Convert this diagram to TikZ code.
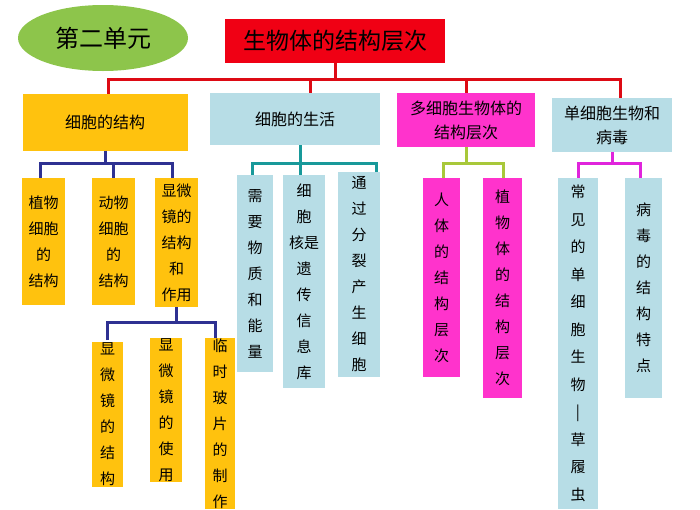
\documentclass[tikz,border=0pt]{standalone}
\usepackage{fontspec}
\setmainfont{Noto Sans CJK SC}
\usetikzlibrary{shapes.geometric}
\definecolor{cyel}{HTML}{FFC20E}
\definecolor{cblue}{HTML}{B7DDE6}
\definecolor{cmag}{HTML}{FF33CC}
\definecolor{cred}{HTML}{F00014}
\definecolor{cgreen}{HTML}{8DC54B}
\definecolor{lnavy}{HTML}{2E3192}
\definecolor{lteal}{HTML}{18999A}
\definecolor{llime}{HTML}{A8C83A}
\definecolor{lmag}{HTML}{E024DC}
\definecolor{lred}{HTML}{DD0A14}
\tikzset{
  cell/.style={inner sep=0pt, align=center, font=\fontsize{15}{26}\selectfont},
  bigcell/.style={cell, font=\fontsize{16}{24}\selectfont},
  link/.style={line width=3pt}
}
\begin{document}
\begin{tikzpicture}[x=1pt,y=-1pt]
    \useasboundingbox (0,0) rectangle (700,509);
    \fill[white] (0,0) rectangle (700,509);

    % connector levels
    \coordinate (rbus) at (0,79);
    \coordinate (ybus) at (0,163);
    \coordinate (mbus) at (0,322);

    % unit and title
    \node[ellipse, fill=cgreen, minimum width=170, minimum height=66, font=\fontsize{24}{24}\selectfont] (unit) at (103,38) {第二单元};
    \node[cell, fill=cred, minimum width=220, minimum height=44, font=\fontsize{23}{23}\selectfont] (title) at (335,41) {生物体的结构层次};

    % main branches
    \draw[link, lred] (108,100) |- (title.south |- rbus) -- (title.south);
    \draw[link, lred] (310,100) |- (title.south |- rbus);
    \draw[link, lred] (466,100) |- (title.south |- rbus);
    \draw[link, lred] (620,100) |- (title.south |- rbus);
    \node[bigcell, fill=cyel, minimum width=165, minimum height=57] (jg) at (105,122) {细胞的结构};
    \node[bigcell, fill=cblue, minimum width=170, minimum height=52] (sh) at (295,119) {细胞的生活};
    \node[bigcell, fill=cmag, minimum width=138, minimum height=54] (dx) at (466,120) {多细胞生物体的\\结构层次};
    \node[bigcell, fill=cblue, minimum width=120, minimum height=54] (dan) at (612,125) {单细胞生物和\\病毒};

    % 细胞的结构
    \draw[link, lnavy] (jg.south) -- (jg.south |- ybus);
    \draw[link, lnavy] (40,180) |- (172,163) -- (172,180);
    \draw[link, lnavy] (113,163) -- (113,180);
    \node[cell, fill=cyel, minimum width=43, minimum height=127] (zw) at (43.5,241.5) {植物\\细胞\\的\\结构};
    \node[cell, fill=cyel, minimum width=43, minimum height=127] (dw) at (113.5,241.5) {动物\\细胞\\的\\结构};
    \node[cell, fill=cyel, minimum width=43, minimum height=129] (xw) at (176.5,242.5) {显微\\镜的\\结构\\和\\作用};
    \draw[link, lnavy] (xw.south) -- (xw.south |- mbus);
    \draw[link, lnavy] (107,340) |- (215,322) -- (215,340);
    \node[cell, fill=cyel, minimum width=31, minimum height=145] (xj) at (107.5,414.5) {显\\微\\镜\\的\\结\\构};
    \node[cell, fill=cyel, minimum width=32, minimum height=144] (xs) at (166,410) {显\\微\\镜\\的\\使\\用};
    \node[cell, fill=cyel, minimum width=30, minimum height=171] (lb) at (220,423.5) {临\\时\\玻\\片\\的\\制\\作};

    % 细胞的生活
    \draw[link, lteal] (300,145) -- (300,175);
    \draw[link, lteal] (252,177) |- (376,163) -- (376,177);
    \node[cell, fill=cblue, minimum width=36, minimum height=197] (xy) at (255,273.5) {需\\要\\物\\质\\和\\能\\量};
    \node[cell, fill=cblue, minimum width=42, minimum height=213] (xbh) at (304,281.5) {细\\胞\\核是\\遗\\传\\信\\息\\库};
    \node[cell, fill=cblue, minimum width=42, minimum height=205] (fl) at (359,274.5) {通\\过\\分\\裂\\产\\生\\细\\胞};

    % 多细胞生物体的结构层次
    \draw[link, llime] (dx.south) -- (dx.south |- ybus);
    \draw[link, llime] (443,180) |- (503,163) -- (503,180);
    \node[cell, fill=cmag, minimum width=37, minimum height=199] (rt) at (441.5,277.5) {人\\体\\的\\结\\构\\层\\次};
    \node[cell, fill=cmag, minimum width=39, minimum height=220] (zwt) at (502.5,288) {植\\物\\体\\的\\结\\构\\层\\次};

    % 单细胞生物和病毒
    \draw[link, lmag] (dan.south) -- (dan.south |- ybus);
    \draw[link, lmag] (578,180) |- (640,163) -- (640,180);
    \node[cell, fill=cblue, minimum width=40, minimum height=331, font=\fontsize{15}{27.5}\selectfont] (cj) at (578,343.5) {常\\见\\的\\单\\细\\胞\\生\\物\\|\\草\\履\\虫};
    \node[cell, fill=cblue, minimum width=37, minimum height=220] (bd) at (643.5,288) {病\\毒\\的\\结\\构\\特\\点};
\end{tikzpicture}
\end{document}
